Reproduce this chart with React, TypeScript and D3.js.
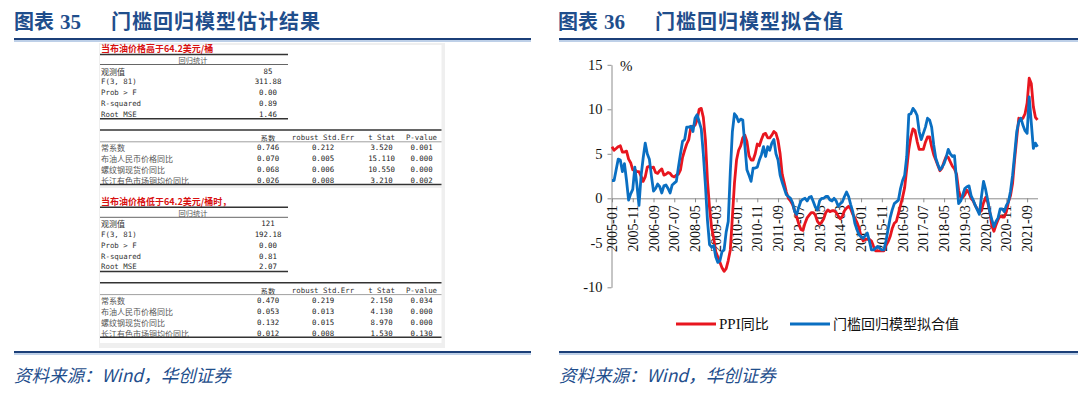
import { useEffect, useRef } from 'react'
import * as d3 from 'd3'

// ---- chart data (monthly, 2005-01 .. 2022-02) ----
const ppiYoY = [
  5.8, 5.4, 5.6, 5.8, 5.9, 5.2, 5.2, 5.3, 4.4, 4.0, 3.2, 3.2,
  3.0, 3.0, 2.5, 1.9, 2.4, 3.5, 3.6, 3.4, 3.5, 2.9, 2.8, 3.1,
  3.3, 2.6, 2.7, 2.9, 2.8, 2.5, 2.4, 2.6, 2.7, 3.2, 4.6, 5.4,
  6.1, 6.6, 8.0, 8.1, 8.2, 8.8, 10.0, 10.1, 9.1, 6.6, 2.0, -1.1,
  -3.3, -4.5, -6.0, -6.6, -7.2, -7.8, -8.2, -7.9, -7.0, -5.8, -2.1, 1.7,
  4.3, 5.4, 5.9, 6.8, 7.1, 6.4, 4.8, 4.3, 4.3, 5.0, 6.1, 5.9,
  6.6, 7.2, 7.3, 6.8, 6.8, 7.1, 7.5, 7.3, 6.5, 5.0, 2.7, 1.7,
  0.7, 0.0, -0.3, -0.7, -1.4, -2.1, -2.9, -3.5, -3.6, -2.8, -2.2, -1.9,
  -1.6, -1.6, -1.9, -2.6, -2.9, -2.7, -2.3, -1.6, -1.3, -1.5, -1.4, -1.4,
  -1.6, -2.0, -2.3, -2.0, -1.4, -1.1, -0.9, -1.2, -1.8, -2.2, -2.7, -3.3,
  -4.3, -4.8, -4.6, -4.6, -4.6, -4.8, -5.4, -5.9, -5.9, -5.9, -5.9, -5.9,
  -5.3, -4.9, -4.3, -3.4, -2.8, -2.6, -1.7, -0.8, 0.1, 1.2, 3.3, 5.5,
  6.9, 7.8, 7.6, 6.4, 5.5, 5.5, 5.5, 6.3, 6.9, 6.9, 5.8, 4.9,
  4.3, 3.7, 3.1, 3.4, 4.1, 4.7, 4.6, 4.1, 3.6, 3.3, 2.7, 0.9,
  0.1, 0.1, 0.4, 0.9, 0.6, 0.0, -0.3, -0.8, -1.2, -1.6, -1.4, -0.5,
  0.1, -0.4, -1.5, -3.1, -3.7, -3.0, -2.4, -2.0, -2.1, -2.1, -1.5, -0.4,
  0.3, 1.7, 4.4, 6.8, 9.0, 8.8, 9.0, 9.5, 10.7, 13.5, 12.9, 10.3,
  9.1, 8.8,
]

const fittedValue = [
  2.0, 2.0, 3.2, 4.4, 4.3, 3.0, 3.9, 2.0, -0.2, 0.5, 1.0, 3.5,
  1.5, -0.8, 2.5, 4.5, 6.2, 5.0, 4.4, 2.5, 0.8, 1.1, 1.6, 1.3,
  0.6, 1.4, 1.5, 1.1, 0.6, 1.5, 1.7, 1.9, 3.5, 5.0, 6.4, 6.6,
  8.0, 8.0, 8.1, 7.5, 9.0, 9.4, 8.6, 7.8, 5.0, 1.5, -2.5, -5.2,
  -5.5, -5.3, -6.6, -7.2, -7.0, -6.0, -5.8, -3.8, -2.6, 3.0, 7.5, 9.5,
  9.2, 8.6, 8.9, 8.8, 6.0, 3.2, 2.6, 1.9, 3.4, 3.4, 3.5, 4.3,
  4.9, 5.8, 4.7, 5.8, 5.4, 6.2, 6.6, 5.0, 4.3, 2.6, 1.8, 1.1,
  0.4, 0.2, 0.0, -0.5, -1.5, -1.8, -1.0, -0.3, -0.1, 0.0, -0.3, 0.1,
  0.2, -0.4, -1.0, -1.3, -0.3, 0.0, 0.0, 0.2, 0.2, -0.2, -0.3, 0.0,
  -0.3, -0.9, -0.6, -0.4, 0.2, 0.7, 0.2, -0.7, -1.5, -2.8, -3.5, -4.1,
  -4.3, -4.5, -4.2, -3.9, -4.8, -5.8, -5.8, -5.6, -5.4, -5.6, -5.8, -5.8,
  -4.8, -3.5, -2.2, -1.3, -0.6, -0.4, -0.2, 1.1, 2.0, 2.6, 4.7, 9.4,
  9.5, 10.1, 9.8, 9.3, 7.5, 6.6, 7.3, 8.0, 9.0, 8.8, 8.0, 6.0,
  4.5, 3.8, 3.2, 3.5, 3.9, 4.6, 5.5, 5.0, 4.7, 4.8, 2.0, -0.6,
  -0.3, 0.4, 1.1, 1.3, 1.4, 0.3, -0.2, -0.8, -1.3, -1.8, 0.2, 1.9,
  1.0, -0.2, -1.5, -2.4, -3.2, -2.6, -2.2, -1.2, -1.2, -1.5, -0.8, -0.4,
  0.8, 2.6, 5.0, 7.5, 8.6, 9.0, 8.2, 7.6, 7.3, 11.4, 8.5, 5.6,
  6.2, 5.8,
]

const months: string[] = ppiYoY.map((_, i) => {
  const yr = 2005 + Math.floor(i / 12)
  const mo = (i % 12) + 1
  return `${yr}-${mo < 10 ? '0' + mo : mo}`
})
const monthTicks = months.filter((_, i) => i % 10 === 0)
const yTicks = [-10, -5, 0, 5, 10, 15]
const seriesNames = ['PPI同比', '门槛回归模型拟合值']

// ---- table data ----
const statLabels = ['观测值', 'F(3, 81)', 'Prob > F', 'R-squared', 'Root MSE']
const statsHigh = ['85', '311.88', '0.00', '0.89', '1.46']
const statsLow = ['121', '192.18', '0.00', '0.81', '2.07']
const coefHeaders = ['系数', 'robust Std.Err', 't Stat', 'P-value']
const coefVars = ['常系数', '布油人民币价格同比', '螺纹钢现货价同比', '长江有色市场铜均价同比']
const coefHigh = [
  ['0.746', '0.212', '3.520', '0.001'],
  ['0.070', '0.005', '15.110', '0.000'],
  ['0.068', '0.006', '10.550', '0.000'],
  ['0.026', '0.008', '3.210', '0.002'],
]
const coefLow = [
  ['0.470', '0.219', '2.150', '0.034'],
  ['0.053', '0.013', '4.130', '0.000'],
  ['0.132', '0.015', '8.970', '0.000'],
  ['0.012', '0.008', '1.530', '0.130'],
]

const NAVY = '#1F4E8C'
const RED = '#E8161F'
const BLUE = '#0A6FC2'
const SERIF = '"Liberation Serif", "Times New Roman", serif'
const CJK = '"Noto Sans CJK SC", sans-serif'
const MONO = '"DejaVu Sans Mono", monospace'

const colX = [268, 323, 381.5, 421.5]

function RegTable({ dy, title, stats, coefs }: { dy: number; title: string; stats: string[]; coefs: string[][] }) {
  const t = (v: number) => v + dy
  return (
    <g>
      <text x={101} y={t(48.6)} fontSize={9} fontWeight="bold" fill="#D81010" fontFamily={CJK} dominantBaseline="central">
        {title}
      </text>
      <line x1={100} x2={288} y1={t(54.5)} y2={t(54.5)} stroke="#333" strokeWidth={1.4} />
      <text x={193} y={t(60)} fontSize={7.2} fill="#555" fontFamily={CJK} textAnchor="middle" dominantBaseline="central">
        回归统计
      </text>
      <line x1={100} x2={288} y1={t(64.5)} y2={t(64.5)} stroke="#666" strokeWidth={1} />
      {statLabels.map((l, i) => (
        <g key={l}>
          <text x={101} y={t(71 + i * 10.75)} fontSize={i === 0 ? 8 : 7.4} fill="#333"
            fontFamily={i === 0 ? CJK : MONO} dominantBaseline="central">{l}</text>
          <text x={268} y={t(71 + i * 10.75)} fontSize={7.4} fill="#222" fontFamily={MONO}
            textAnchor="middle" dominantBaseline="central">{stats[i]}</text>
        </g>
      ))}
      <line x1={100} x2={288} y1={t(118.7)} y2={t(118.7)} stroke="#333" strokeWidth={1.4} />
      <line x1={100} x2={441.5} y1={t(130)} y2={t(130)} stroke="#333" strokeWidth={1.6} />
      {coefHeaders.map((h, j) => (
        <text key={h} x={colX[j]} y={t(137.5)} fontSize={7.4} fill="#333"
          fontFamily={j === 0 ? CJK : MONO} textAnchor="middle" dominantBaseline="central">{h}</text>
      ))}
      <line x1={100} x2={441.5} y1={t(141.8)} y2={t(141.8)} stroke="#888" strokeWidth={0.8} />
      {coefVars.map((v, i) => (
        <g key={v}>
          <text x={101} y={t(147.5 + i * 10.9)} fontSize={8} fill="#555" fontFamily={CJK} dominantBaseline="central">{v}</text>
          {coefs[i].map((c, j) => (
            <text key={j} x={colX[j]} y={t(147.5 + i * 10.9)} fontSize={7.4} fill="#222" fontFamily={MONO}
              textAnchor="middle" dominantBaseline="central">{c}</text>
          ))}
        </g>
      ))}
      <line x1={100} x2={441.5} y1={t(184.5)} y2={t(184.5)} stroke="#333" strokeWidth={1.4} />
    </g>
  )
}

function Header({ x, num, title }: { x: number; num: string; title: string }) {
  return (
    <g fill={NAVY}>
      <text x={x} y={29} fontSize={20} fontWeight="bold" fontFamily={CJK}>图表</text>
      <text x={x + 46} y={29} fontSize={21} fontWeight="bold" fontFamily={SERIF}>{num}</text>
      <text x={x + 97} y={29} fontSize={20} fontWeight="bold" fontFamily={CJK} letterSpacing={1}>{title}</text>
    </g>
  )
}

function Rule({ x1, x2, y }: { x1: number; x2: number; y: number }) {
  return (
    <g>
      <line x1={x1} x2={x2} y1={y} y2={y} stroke="#1B3F78" strokeWidth={2.2} />
      <line x1={x1} x2={x2} y1={y + 2} y2={y + 2} stroke="#A9C0E0" strokeWidth={1.4} />
    </g>
  )
}

export default function App() {
  const chartRef = useRef<SVGGElement>(null)

  useEffect(() => {
    if (!chartRef.current) return
    const g = d3.select(chartRef.current)
    g.selectAll('*').remove()

    const x = d3.scalePoint<string>().domain(months).range([612, 1037.5])
    const y = d3.scaleLinear().domain([-10, 15]).range([287.3, 64.8])

    // y axis
    g.append('g')
      .attr('transform', 'translate(611.5,0)')
      .call(d3.axisLeft(y).tickValues(yTicks).tickSize(4).tickSizeOuter(0).tickPadding(5).tickFormat((d) => String(d)))
      .call((s) => s.select('.domain').attr('stroke', '#8c8c8c'))
      .call((s) => s.selectAll('line').attr('stroke', '#8c8c8c'))
      .call((s) =>
        s.selectAll('text')
          .attr('font-size', 14.5)
          .attr('font-family', SERIF)
          .attr('fill', '#111')
      )

    // x axis at zero
    g.append('g')
      .attr('transform', `translate(0,${y(0)})`)
      .call(d3.axisBottom(x).tickValues(monthTicks).tickSize(4).tickSizeOuter(0))
      .call((s) => s.select('.domain').attr('stroke', '#8c8c8c'))
      .call((s) => s.selectAll('line').attr('stroke', '#8c8c8c'))
      .call((s) =>
        s.selectAll('text')
          .attr('transform', 'rotate(-90)')
          .attr('text-anchor', 'end')
          .attr('x', -7)
          .attr('y', 0)
          .attr('dy', '0.33em')
          .attr('font-size', 14)
          .attr('font-family', SERIF)
          .attr('fill', '#111')
      )

    g.append('text')
      .attr('x', 620)
      .attr('y', y(15) + 6)
      .attr('font-size', 15)
      .attr('font-family', SERIF)
      .attr('fill', '#111')
      .text('%')

    const line = d3.line<number>()
      .x((_, i) => x(months[i])!)
      .y((d) => y(d))

    ;[ppiYoY, fittedValue].forEach((vals, k) => {
      g.append('path')
        .datum(vals)
        .attr('d', line)
        .attr('fill', 'none')
        .attr('stroke', k === 0 ? RED : BLUE)
        .attr('stroke-width', 2.8)
        .attr('stroke-linejoin', 'round')
    })

    // legend
    const leg = [
      { x: 676, color: RED, label: seriesNames[0] },
      { x: 790, color: BLUE, label: seriesNames[1] },
    ]
    leg.forEach((l) => {
      g.append('line')
        .attr('x1', l.x).attr('x2', l.x + 40)
        .attr('y1', 324).attr('y2', 324)
        .attr('stroke', l.color).attr('stroke-width', 3)
      const t = g.append('text')
        .attr('x', l.x + 43)
        .attr('y', 324)
        .attr('dy', '0.35em')
        .attr('font-size', 14)
        .attr('fill', '#111')
      if (l.label.startsWith('PPI')) {
        t.append('tspan').attr('font-family', SERIF).attr('font-size', 15).text('PPI')
        t.append('tspan').attr('font-family', CJK).text(l.label.slice(3))
      } else {
        t.attr('font-family', CJK).text(l.label)
      }
    })
  }, [])

  return (
    <svg width={1080} height={397} style={{ position: 'absolute', left: 0, top: 0, background: '#fff' }}>
      <rect x={0} y={0} width={1080} height={397} fill="#fff" />
      <Header x={14} num="35" title="门槛回归模型估计结果" />
      <Header x={558} num="36" title="门槛回归模型拟合值" />
      <Rule x1={14} x2={531} y={39} />
      <Rule x1={559} x2={1078} y={39} />

      {/* regression table */}
      <rect x={99} y={43} width={346} height={305} fill="#efefef" />
      <rect x={100} y={45} width={341.5} height={141} fill="#fff" />
      <rect x={100} y={188} width={341.5} height={155} fill="#fff" />
      <RegTable dy={0} title="当布油价格高于64.2美元/桶" stats={statsHigh} coefs={coefHigh} />
      <RegTable dy={152.8} title="当布油价格低于64.2美元/桶时，" stats={statsLow} coefs={coefLow} />

      <g ref={chartRef} />

      <Rule x1={14} x2={531} y={352} />
      <Rule x1={559} x2={1078} y={352} />
      <text x={14} y={382} fontSize={17.5} fontStyle="italic" fill={NAVY} fontFamily={CJK}>资料来源：Wind，华创证券</text>
      <text x={559} y={382} fontSize={17.5} fontStyle="italic" fill={NAVY} fontFamily={CJK}>资料来源：Wind，华创证券</text>
    </svg>
  )
}
